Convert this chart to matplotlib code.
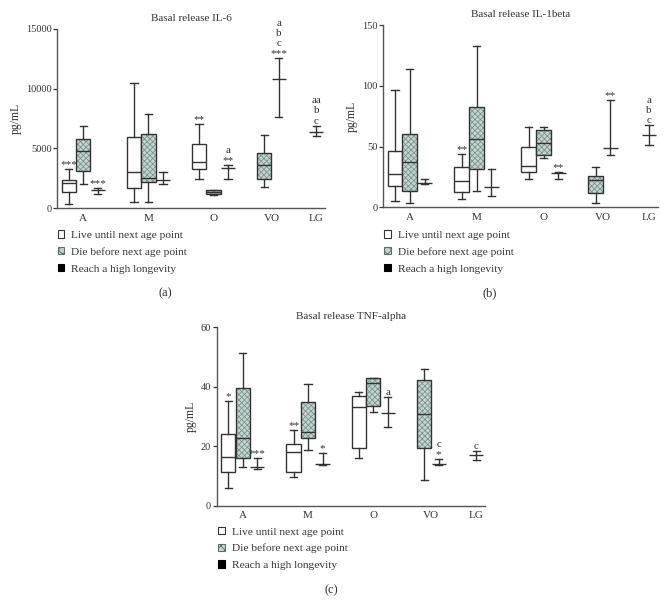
import matplotlib
matplotlib.use('Agg')
import matplotlib.pyplot as plt
from matplotlib.patches import Patch, PathPatch

plt.rcParams['font.family'] = ['Liberation Serif', 'DejaVu Serif']
plt.rcParams['hatch.linewidth'] = 0.6

categories = ['A', 'M', 'O', 'VO', 'LG']
legend_labels = ['Live until next age point', 'Die before next age point', 'Reach a high longevity']

# box groups: (whislo, q1, med, q3, whishi); high longevity: (low, median, high)
il6_live = [(330, 1390, 2150, 2370, 3270), (500, 1680, 3070, 6000, 10470), (2460, 3270, 3900, 5390, 7040)]
il6_die = [(2000, 3100, 4800, 5750, 6900), (500, 2230, 2550, 6230, 7880),
           (1120, 1200, 1350, 1500, 1530), (1760, 2430, 3600, 4660, 6090)]
il6_high = [(1200, 1560, 1670), (2040, 2350, 3070), (2430, 3350, 3600), (7630, 10800, 12570), (6060, 6340, 6920)]
il6_marks = [('live', 0, '***'), ('high', 0, '***'), ('live', 2, '**'), ('high', 2, 'a\n**'),
             ('high', 3, 'a\nb\nc\n***'), ('high', 4, 'aa\nb\nc')]

il1_live = [(4.9, 17.6, 27.7, 46.4, 96.7), (7.1, 12.4, 21.4, 33.2, 43.9), (23.1, 28.8, 34.3, 49.4, 66)]
il1_die = [(3.3, 13.7, 37.6, 60.2, 113.8), (13.7, 31.3, 56.3, 82.4, 133.2),
           (40.6, 43.4, 52.8, 63.7, 66), (3.3, 12.0, 22.5, 25.8, 33.5)]
il1_high = [(19.2, 20.0, 23.1), (9.3, 17, 31.3), (23, 28, 29), (43.1, 49.2, 88.5), (51, 59.5, 68)]
il1_marks = [('live', 1, '**'), ('high', 2, '**'), ('high', 3, '**'), ('high', 4, 'a\nb\nc')]

tnf_live = [(5.95, 11.4, 16.4, 24.0, 35.3), (9.8, 11.2, 18.2, 20.8, 25.5), (16.0, 19.4, 33.3, 37.0, 38.1)]
tnf_die = [(13.1, 15.9, 22.7, 39.7, 51.3), (18.7, 22.8, 24.7, 35.0, 40.8),
           (31.6, 33.5, 41.2, 42.9, 43.0), (8.6, 19.3, 31.0, 42.3, 46.1)]
tnf_high = [(12.5, 13.1, 16.0), (13.7, 14.0, 17.6), (26.6, 31.3, 36.7), (13.8, 14.1, 15.7), (15.4, 17.1, 18.4)]
tnf_marks = [('live', 0, '*'), ('high', 0, '***'), ('live', 1, '**'), ('high', 1, '*'), ('high', 2, 'a'),
             ('high', 3, 'c\n*'), ('high', 4, 'c')]

# slot layout on the x axis
cat_x = [1.8, 6.3, 10.8, 14.8, 17.9]
live_off = [-1, -1, -1]
die_off = [0, 0, 0, -0.5]
high_off = [1, 1, 1, 0.5, 0]

LINE = '#333333'
DIE_FACE = '#c6d4d1'
DIE_HATCH = '#7a958f'


def box_stats(vals):
    lo, q1, med, q3, hi = vals
    return dict(whislo=lo, q1=q1, med=med, q3=q3, whishi=hi, fliers=[])


def draw_panel(ax, live, die, high, marks, ymax, step, title):
    kw = dict(widths=0.98, capwidths=0.5, patch_artist=True, showfliers=False, manage_ticks=False,
              whiskerprops=dict(color=LINE, lw=1.0), capprops=dict(color=LINE, lw=1.0),
              medianprops=dict(color=LINE, lw=1.0))
    live_x = [cat_x[i] + live_off[i] for i in range(len(live))]
    die_x = [cat_x[i] + die_off[i] for i in range(len(die))]
    high_x = [cat_x[i] + high_off[i] for i in range(len(high))]

    ax.bxp([box_stats(v) for v in live], positions=live_x,
           boxprops=dict(facecolor='white', edgecolor=LINE, lw=1.0), **kw)
    res = ax.bxp([box_stats(v) for v in die], positions=die_x,
                 boxprops=dict(facecolor=DIE_FACE, edgecolor=DIE_HATCH, lw=0, hatch='xxxxxx'), **kw)
    for b in res['boxes']:
        ax.add_patch(PathPatch(b.get_path(), fill=False, edgecolor=LINE, lw=1.0, zorder=b.get_zorder() + 0.1))
    ax.bxp([box_stats((lo, med, med, med, hi)) for lo, med, hi in high], positions=high_x,
           boxprops=dict(facecolor='none', edgecolor='none', lw=0), **kw)

    for grp, i, txt in marks:
        if grp == 'live':
            x, top = live_x[i], live[i][4]
        else:
            x, top = high_x[i], high[i][2]
        ax.annotate(txt, (x, top), xytext=(0, 0), textcoords='offset points', ha='center', va='bottom',
                    fontsize=8, color=LINE, linespacing=1.15, annotation_clip=False)

    ax.set_xlim(0, 18.5)
    ax.set_ylim(0, ymax)
    ax.set_yticks(range(0, int(ymax) + 1, step))
    ax.set_xticks(cat_x)
    ax.set_xticklabels(categories)
    ax.tick_params(axis='x', length=0, pad=4, labelsize=8, colors=LINE)
    ax.tick_params(axis='y', length=3, width=0.9, pad=1, labelsize=7.5, colors=LINE)
    for s in ['top', 'right']:
        ax.spines[s].set_visible(False)
    for s in ['left', 'bottom']:
        ax.spines[s].set_color('#555555')
        ax.spines[s].set_linewidth(1.0)
    ax.set_ylabel('pg/mL', fontsize=8.5, color=LINE, labelpad=3)
    ax.set_title(title, fontsize=8, color=LINE, pad=6)


fig = plt.figure(figsize=(6.66, 6.16), dpi=100)

ax_a = fig.add_axes([0.086, 0.662, 0.402, 0.291])
ax_b = fig.add_axes([0.575, 0.6635, 0.413, 0.2955])
ax_c = fig.add_axes([0.3254, 0.179, 0.4029, 0.2896])

draw_panel(ax_a, il6_live, il6_die, il6_high, il6_marks, 15000, 5000, 'Basal release IL-6')
draw_panel(ax_b, il1_live, il1_die, il1_high, il1_marks, 150, 50, 'Basal release IL-1beta')
draw_panel(ax_c, tnf_live, tnf_die, tnf_high, tnf_marks, 60, 20, 'Basal release TNF-alpha')

handles = [Patch(facecolor='white', edgecolor=LINE, lw=0.8),
           Patch(facecolor=DIE_FACE, edgecolor='#5d6f6b', lw=0.8, hatch='xxxx'),
           Patch(facecolor='black', edgecolor='black', lw=0.8)]

for x, y in [(57.5, 230.5), (384, 230.5), (218, 527)]:
    fig.legend(handles, legend_labels, loc='upper left', bbox_to_anchor=(x / 666, 1 - y / 616),
               frameon=False, fontsize=8.2, handlelength=0.6, handleheight=0.6, handletextpad=0.6,
               labelspacing=0.62, borderpad=0, borderaxespad=0, labelcolor=LINE)

for x, y, lab in [(165.7, 293.3, '(a)'), (489.7, 293, '(b)'), (331.7, 590, '(c)')]:
    fig.text(x / 666, 1 - y / 616, lab, ha='center', va='center', fontsize=9, color=LINE)

fig.savefig('out.png', dpi=100)
